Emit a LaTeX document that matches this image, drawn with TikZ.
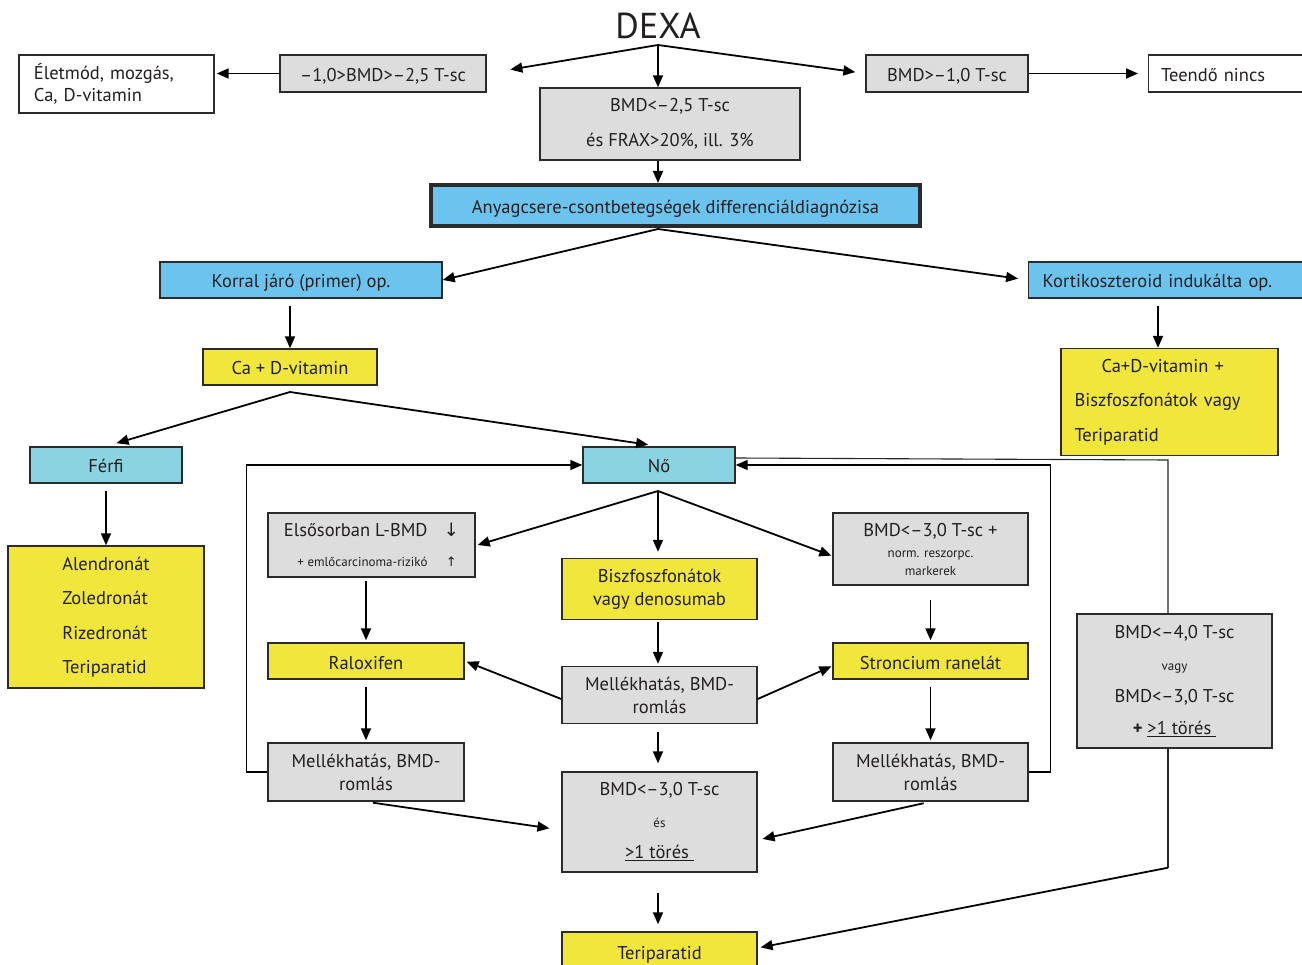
\documentclass[tikz,border=0pt]{standalone}
\usepackage{fontspec}
\setmainfont{PT Sans}
\newfontfamily\nyilfont{DejaVu Sans}
\usetikzlibrary{arrows.meta,positioning}

\definecolor{szurke}{HTML}{DDDDDD}
\definecolor{sarga}{HTML}{F0E63C}
\definecolor{kek}{HTML}{6CC3EE}
\definecolor{cian}{HTML}{8AD3E0}
\definecolor{keret}{HTML}{2B2B2B}
\definecolor{betu}{HTML}{231F20}

\tikzset{
  doboz/.style={draw=keret, line width=1.4pt, minimum height=37pt, inner sep=2pt,
    align=center, text=betu, font=\fontsize{18.5}{23}\selectfont},
  egysor/.style={text height=19pt, text depth=3pt},
  gdoboz/.style={doboz, fill=szurke},
  sdoboz/.style={doboz, fill=sarga},
  kdoboz/.style={doboz, fill=kek},
  cdoboz/.style={doboz, fill=cian},
  fdoboz/.style={doboz, fill=white},
  nyil/.style={-{Triangle[length=12pt,width=10pt]}, line width=1.8pt, draw=black},
  hurok/.style={-{Triangle[length=12pt,width=10pt]}, line width=1.5pt, draw=black},
  vekony/.style={line width=1.1pt, draw=black!85},
}
\newcommand{\apro}{\fontsize{13}{15}\selectfont}

\begin{document}
\begin{tikzpicture}[x=1pt, y=-1pt]
  \useasboundingbox (0,0) rectangle (1302,965);
  % Kiindulas
  \node[text=betu, font=\fontsize{36}{40}\selectfont] (dexa) at (658,26) {DEXA};
  \coordinate (dexaj) at (658,45);
  % Felso sor
  \node[fdoboz, minimum width=195pt, minimum height=58pt, text width=165pt, align=left, font=\fontsize{18.5}{22}\selectfont] (eletmod) at (116.5,84) {Életmód, mozgás,\\Ca, D-vitamin};
  \node[gdoboz, egysor, minimum width=206pt] (osteop) at (383,73.5) {–1,0>BMD>–2,5 T-sc};
  \node[gdoboz, minimum width=260pt, minimum height=72pt, font=\fontsize{18.5}{35}\selectfont] (bmdfrax) at (670,124) {BMD<–2,5 T-sc\\és FRAX>20\%, ill. 3\%};
  \node[gdoboz, egysor, minimum width=162pt] (normal) at (947,73.5) {BMD>–1,0 T-sc};
  \node[fdoboz, egysor, minimum width=175pt, text width=150pt, align=left, anchor=west] (nincs) at (1148,73.5) {Teendő nincs};
  % Differencialdiagnozis
  \node[kdoboz, egysor, line width=4pt, minimum width=489pt, minimum height=41pt] (diff) at (675.5,205.5) {Anyagcsere-csontbetegségek differenciáldiagnózisa};
  \coordinate (diffj) at (658,229);
  % Ket ag
  \node[kdoboz, egysor, minimum width=282pt, minimum height=36pt] (primer) at (301,280) {Korral járó (primer) op.};
  \node[kdoboz, egysor, minimum width=290pt, minimum height=36pt, text width=262pt, align=left, anchor=west] (kortiko) at (1028,280) {Kortikoszteroid indukálta op.};
  \node[sdoboz, egysor, minimum width=174pt, minimum height=36pt] (cad) at (290,367) {Ca + D-vitamin};
  \coordinate (cadj) at (290,392);
  \node[sdoboz, minimum width=217pt, minimum height=107pt, text width=190pt, align=left, font=\fontsize{18.5}{34.5}\selectfont] (kortkez) at (1169.5,402) {\hspace*{27pt}Ca+D-vitamin +\\Biszfoszfonátok vagy\\Teriparatid};
  % Ferfi
  \node[cdoboz, egysor, minimum width=152pt, minimum height=36pt] (ferfi) at (106,465) {Férfi};
  \node[sdoboz, minimum width=196pt, minimum height=142pt, align=left, font=\fontsize{18.5}{34.4}\selectfont] (ferfikez) at (106,617) {Alendronát\\Zoledronát\\Rizedronát\\Teriparatid};
  % No
  \node[cdoboz, egysor, minimum width=152pt, minimum height=36pt] (no) at (659,465) {Nő};
  \coordinate (noj) at (658,491);
  \node[gdoboz, minimum width=207pt, minimum height=63pt, font=\fontsize{18.5}{30}\selectfont] (lbmd) at (371.5,545) {\begin{tabular}{@{}r@{\hspace{16pt}}c@{}}Elsősorban L-BMD & {\nyilfont ↓}\\ {\apro + emlőcarcinoma-rizikó} & {\apro\nyilfont ↑}\end{tabular}};
  \node[sdoboz, minimum width=195pt, minimum height=61pt] (biszf) at (659.5,589) {Biszfoszfonátok\\vagy denosumab};
  \node[gdoboz, minimum width=195pt, minimum height=72pt, font=\fontsize{18.5}{20}\selectfont] (bmdnorm) at (930.5,549) {BMD<–3,0 T-sc +\\[1pt]{\apro norm. reszorpc.}\\[-2pt]{\apro markerek}};
  \node[sdoboz, egysor, minimum width=196pt, minimum height=36pt] (ralox) at (366,661) {Raloxifen};
  \node[gdoboz, minimum width=195pt, minimum height=57pt] (mellek) at (659.5,695) {Mellékhatás, BMD-\\romlás};
  \node[sdoboz, egysor, minimum width=195pt, minimum height=36pt] (stronc) at (930.5,661) {Stroncium ranelát};
  \node[gdoboz, minimum width=196pt, minimum height=58pt] (mellekb) at (366,772) {Mellékhatás, BMD-\\romlás};
  \node[gdoboz, minimum width=195pt, minimum height=58pt] (mellekj) at (930.5,772) {Mellékhatás, BMD-\\romlás};
  \node[gdoboz, minimum width=195pt, minimum height=100pt, font=\fontsize{18.5}{31.5}\selectfont] (bmdtores) at (659.5,822) {BMD<–3,0 T-sc\\{\apro és}\\\underline{>1 törés\ }};
  \node[gdoboz, minimum width=195pt, minimum height=134pt, font=\fontsize{18.5}{32}\selectfont] (bmdnegy) at (1174.5,681) {BMD<–4,0 T-sc\\{\apro vagy}\\BMD<–3,0 T-sc\\\textbf{+} \underline{>1 törés\ }};
  \node[sdoboz, egysor, minimum width=195pt, minimum height=38pt] (teri) at (659.5,951) {Teriparatid};
  % Kapcsolatok
  \draw[nyil, shorten >=24pt] (dexaj) -- (osteop.east);
  \draw[nyil] (dexaj) -- (bmdfrax.north -| dexaj);
  \draw[nyil, shorten >=10pt] (dexaj) -- (normal.west);
  \draw[nyil, shorten >=2pt] (osteop.west) -- (eletmod.east |- osteop.west);
  \draw[nyil, shorten >=10pt] (normal.east) -- (nincs.west);
  \draw[nyil] (bmdfrax.south -| dexaj) -- (diff.north -| dexaj);
  \draw[nyil] (diffj) -- (primer.east);
  \draw[nyil, shorten >=10pt] (diffj) -- (kortiko.west);
  \draw[nyil, shorten <=7pt] (primer.south -| cad.north) -- (cad.north);
  \draw[nyil] ([xshift=130pt,yshift=-7pt]kortiko.south west) -- ([xshift=-11.5pt]kortkez.north);
  \draw[nyil, shorten >=11pt] (cadj) -- (ferfi.north);
  \draw[nyil, shorten >=11pt] (cadj) -- (no.north);
  \draw[nyil, shorten <=7pt] (ferfi.south) -- (ferfikez.north);
  \draw[nyil] (noj) -- ([xshift=2pt]lbmd.east);
  \draw[nyil, shorten >=6pt] (noj) -- (biszf.north -| noj);
  \draw[nyil, shorten >=1pt] (noj) -- ([yshift=-7pt]bmdnorm.west);
  \draw[nyil, shorten <=3pt, shorten >=2pt] (lbmd.south -| ralox.north) -- (ralox.north);
  \draw[nyil, shorten <=2pt, shorten >=2pt] (biszf.south -| noj) -- (mellek.north -| noj);
  \draw[nyil, shorten >=2pt] ([yshift=-4pt]mellek.west) -- (ralox.east);
  \draw[nyil, shorten >=1pt] ([yshift=-4pt]mellek.east) -- ([yshift=-5pt]stronc.west);
  \draw[nyil, shorten <=14pt, shorten >=2pt] (bmdnorm.south) -- (stronc.north);
  \draw[nyil, shorten <=7pt, shorten >=2pt] (ralox.south) -- (mellekb.north);
  \draw[nyil, shorten <=7pt, shorten >=2pt] (stronc.south) -- (mellekj.north);
  \draw[nyil, shorten <=8pt, shorten >=8pt] (mellek.south -| noj) -- (bmdtores.north -| noj);
  \draw[nyil, shorten <=7pt, shorten >=12pt] (mellekb.south) -- ([yshift=-8pt]bmdtores.west);
  \draw[nyil, shorten <=7pt, shorten >=5pt] (mellekj.south) -- ([yshift=-18pt]bmdtores.east);
  \draw[nyil, shorten <=20pt, shorten >=7pt] (bmdtores.south -| noj) -- (teri.north -| noj);
  % Visszacsatolasok
  \draw[hurok] (mellekb.west) -- ++(-21,0) |- (no.west);
  \draw[hurok] (mellekj.east) -- ++(22,0) |- (no.east);
  \draw[vekony] ([yshift=7pt]no.east) -- (1168,460) -- ([xshift=-6.5pt]bmdnegy.north);
  \draw[vekony] ([xshift=-6.5pt]bmdnegy.south) -- ++(0,119) coordinate (negyj);
  \draw[nyil, shorten >=3pt] (negyj) -- ([yshift=3pt]teri.east);
\end{tikzpicture}
\end{document}
